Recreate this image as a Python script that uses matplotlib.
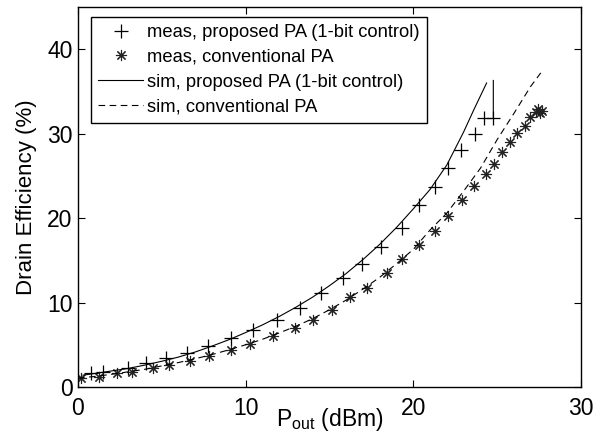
import numpy as np
import matplotlib
matplotlib.use("Agg")
import matplotlib.pyplot as plt

plt.rcParams['font.family'] = ['Liberation Sans', 'DejaVu Sans']
plt.rcParams['mathtext.fontset'] = 'custom'
plt.rcParams['mathtext.rm'] = 'Liberation Sans'

# measured, proposed PA (1-bit control)
meas_prop_x = [0.78, 1.51, 2.96, 4.05, 5.25, 6.5, 7.75, 9.14, 10.43, 11.87, 13.22, 14.49,
               15.82, 16.92, 18.1, 19.3, 20.35, 21.29, 22.08, 22.85, 23.67, 24.21, 24.77]
meas_prop_y = [1.6, 1.8, 2.2, 2.8, 3.4, 4.0, 4.8, 5.8, 6.8, 7.95, 9.3, 11.15,
               12.9, 14.6, 16.6, 18.8, 21.5, 23.7, 25.9, 28.1, 30.0, 31.8, 31.8]

# measured, conventional PA
meas_conv_x = [0.2, 1.27, 2.3, 3.21, 4.45, 5.42, 6.68, 7.81, 9.13, 10.26, 11.65, 12.92,
               14.01, 15.12, 16.22, 17.25, 18.41, 19.3, 20.33, 21.29, 22.04, 22.88, 23.63,
               24.36, 24.82, 25.27, 25.76, 26.2, 26.65, 26.95, 27.3, 27.45, 27.55, 27.65]
meas_conv_y = [1.1, 1.2, 1.6, 1.8, 2.25, 2.6, 3.1, 3.7, 4.35, 5.05, 6.05, 6.95,
               7.95, 9.17, 10.6, 11.7, 13.5, 15.1, 16.8, 18.5, 20.3, 22.1, 23.8,
               25.2, 26.4, 27.8, 29.0, 30.1, 30.9, 32.0, 32.6, 32.9, 32.5, 32.7]

# simulated, proposed PA (nan = break in the trace)
sim_prop_x = [0.3, 1.5, 3, 4, 5, 6, 7, 8, 9, 10, 11, 12, 13, 14, 15, 16, 17, 18, 19, 20,
              21, 22, 23, 23.6, 24.37, np.nan, 24.77, 24.77]
sim_prop_y = [1.4, 1.75, 2.2, 2.6, 3.05, 3.55, 4.15, 4.85, 5.6, 6.45, 7.35, 8.35, 9.45,
              10.65, 12.0, 13.45, 15.1, 16.9, 18.9, 21.1, 23.4, 26.3, 30.2, 32.8, 36.0,
              np.nan, 36.3, 31.8]

# simulated, conventional PA
sim_conv_x = [0, 1, 2, 3, 4, 5, 6, 7, 8, 9, 10, 11, 12, 13, 14, 15, 16, 17, 18, 19, 20,
              21, 22, 23, 24, 25, 26, 27, 27.6]
sim_conv_y = [1.05, 1.25, 1.5, 1.8, 2.1, 2.5, 2.9, 3.35, 3.85, 4.4, 5.0, 5.65, 6.4, 7.2,
              8.1, 9.15, 10.3, 11.6, 13.0, 14.6, 16.3, 18.6, 20.6, 23.2, 25.9, 29.3, 32.4,
              35.6, 37.2]

fig = plt.figure(figsize=(6.02, 4.37), dpi=100)
ax = fig.add_axes([78 / 602, 1 - 387 / 437, 503 / 602, 380 / 437])

ax.plot(meas_prop_x, meas_prop_y, '+', color='black', markersize=10, markeredgewidth=0.9,
        label='meas, proposed PA (1-bit control)')
# matlab style asterisk: 8 spokes
ax.plot(meas_conv_x, meas_conv_y, linestyle='none', marker=(8, 2, 0), color='#222222',
        markersize=8, markeredgewidth=0.8, label='meas, conventional PA')
ax.plot(sim_prop_x, sim_prop_y, '-', color='black', linewidth=0.8,
        label='sim, proposed PA (1-bit control)')
ax.plot(sim_conv_x, sim_conv_y, '--', color='black', linewidth=0.8, dashes=(6, 4),
        label='sim, conventional PA')

ax.set_xlim(0, 30)
ax.set_ylim(0, 45)
ax.set_xticks([0, 10, 20, 30])
ax.set_yticks([0, 10, 20, 30, 40])
ax.tick_params(direction='in', top=True, right=True, length=5, width=0.8,
               labelsize=16.5)
ax.tick_params(axis='x', pad=7)
ax.tick_params(axis='y', pad=4)
for s in ax.spines.values():
    s.set_linewidth(1.0)

ax.set_xlabel(r'$\mathregular{P_{out}}$ (dBm)', fontsize=16.5, labelpad=-10)
ax.set_ylabel('Drain Efficiency (%)', fontsize=16, labelpad=7)

leg = ax.legend(loc='upper left', bbox_to_anchor=(0.026, 0.974), borderaxespad=0,
                fontsize=13.2, handlelength=2.45, handletextpad=0.2, labelspacing=0.42,
                borderpad=0.4, fancybox=False, framealpha=1, edgecolor='black')
leg.get_frame().set_linewidth(1.0)

fig.savefig('out.png', dpi=100)
